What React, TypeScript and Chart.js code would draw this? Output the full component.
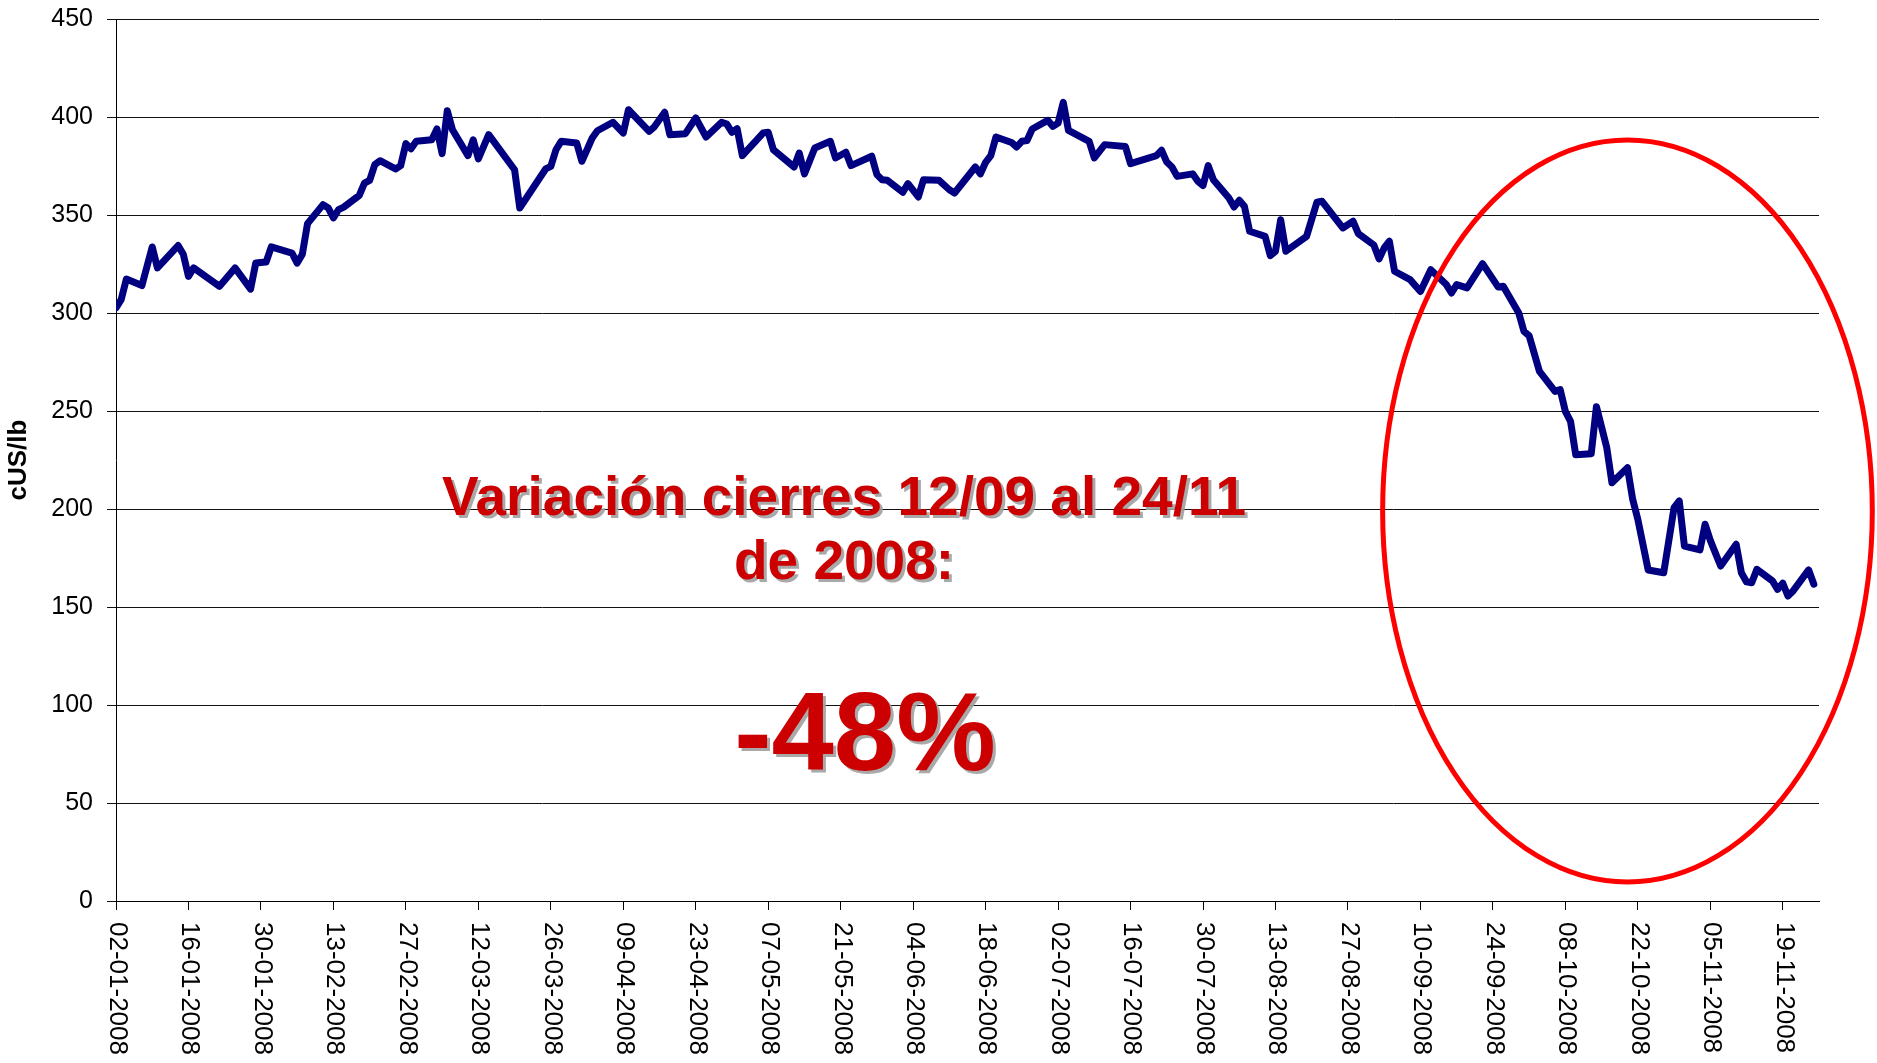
import React, { useEffect, useRef } from "react";
import { Chart, registerables } from "chart.js";

Chart.register(...registerables);

// ---- Data (closing prices, cUS/lb) ----
const dates: string[] = [
  "02-01-2008", "03-01-2008", "04-01-2008", "07-01-2008", "09-01-2008", "10-01-2008", "14-01-2008", "15-01-2008",
  "16-01-2008", "17-01-2008", "22-01-2008", "25-01-2008", "28-01-2008", "29-01-2008", "31-01-2008", "01-02-2008",
  "05-02-2008", "06-02-2008", "07-02-2008", "08-02-2008", "11-02-2008", "12-02-2008", "13-02-2008", "14-02-2008",
  "15-02-2008", "18-02-2008", "19-02-2008", "20-02-2008", "21-02-2008", "22-02-2008", "25-02-2008", "26-02-2008",
  "27-02-2008", "28-02-2008", "29-02-2008", "03-03-2008", "04-03-2008", "05-03-2008", "06-03-2008", "07-03-2008",
  "10-03-2008", "11-03-2008", "12-03-2008", "14-03-2008", "19-03-2008", "20-03-2008", "25-03-2008", "26-03-2008",
  "27-03-2008", "28-03-2008", "31-03-2008", "01-04-2008", "03-04-2008", "04-04-2008", "07-04-2008", "09-04-2008",
  "10-04-2008", "14-04-2008", "15-04-2008", "17-04-2008", "18-04-2008", "21-04-2008", "23-04-2008", "25-04-2008",
  "28-04-2008", "29-04-2008", "30-04-2008", "01-05-2008", "02-05-2008", "06-05-2008", "07-05-2008", "08-05-2008",
  "12-05-2008", "13-05-2008", "14-05-2008", "16-05-2008", "19-05-2008", "20-05-2008", "22-05-2008", "23-05-2008",
  "27-05-2008", "28-05-2008", "29-05-2008", "30-05-2008", "02-06-2008", "03-06-2008", "05-06-2008", "06-06-2008",
  "09-06-2008", "11-06-2008", "12-06-2008", "16-06-2008", "17-06-2008", "18-06-2008", "19-06-2008", "20-06-2008",
  "23-06-2008", "24-06-2008", "25-06-2008", "26-06-2008", "27-06-2008", "30-06-2008", "01-07-2008", "02-07-2008",
  "03-07-2008", "04-07-2008", "08-07-2008", "09-07-2008", "11-07-2008", "15-07-2008", "16-07-2008", "21-07-2008",
  "22-07-2008", "23-07-2008", "24-07-2008", "25-07-2008", "28-07-2008", "29-07-2008", "30-07-2008", "31-07-2008",
  "01-08-2008", "04-08-2008", "05-08-2008", "06-08-2008", "07-08-2008", "08-08-2008", "11-08-2008", "12-08-2008",
  "13-08-2008", "14-08-2008", "15-08-2008", "19-08-2008", "21-08-2008", "22-08-2008", "26-08-2008", "28-08-2008",
  "29-08-2008", "01-09-2008", "02-09-2008", "03-09-2008", "04-09-2008", "05-09-2008", "08-09-2008", "10-09-2008",
  "12-09-2008", "15-09-2008", "16-09-2008", "17-09-2008", "19-09-2008", "22-09-2008", "25-09-2008", "26-09-2008",
  "29-09-2008", "30-09-2008", "01-10-2008", "03-10-2008", "06-10-2008", "07-10-2008", "08-10-2008", "09-10-2008",
  "10-10-2008", "13-10-2008", "14-10-2008", "16-10-2008", "17-10-2008", "20-10-2008", "21-10-2008", "22-10-2008",
  "24-10-2008", "27-10-2008", "29-10-2008", "30-10-2008", "31-10-2008", "03-11-2008", "04-11-2008", "05-11-2008",
  "07-11-2008", "10-11-2008", "11-11-2008", "12-11-2008", "13-11-2008", "14-11-2008", "17-11-2008", "18-11-2008",
  "19-11-2008", "20-11-2008", "21-11-2008", "24-11-2008", "25-11-2008",
];

const cusLb: number[] = [
  302.6, 306.8, 317.3, 314, 333.7, 323, 334.4, 330,
  318.7, 323, 313.6, 323, 312.2, 325.5, 326, 333.7,
  330.6, 325.5, 330, 345.6, 355.3, 353.6, 348.5, 352.7,
  354, 360, 366.3, 367.7, 375.7, 377.7, 373.5, 375.2,
  386.4, 383.8, 387.6, 388.4, 393.9, 381.3, 403.2, 393.5,
  380.3, 388.4, 378.6, 391, 373.1, 353.6, 373.5, 374.8,
  383.3, 387.6, 386.7, 377.4, 389.3, 393, 397.3, 391.8,
  403.7, 392.7, 395, 402.4, 391, 391.5, 399.5, 389.8,
  397.3, 396.4, 392.2, 394, 380.3, 391.8, 392.2, 383.3,
  374.5, 381.6, 371, 384.2, 387.6, 379.1, 382, 375.2,
  380, 370.6, 368, 367.7, 361.6, 366, 359.2, 368,
  367.7, 362.9, 361.2, 374.5, 371, 376.9, 380.3, 389.8,
  387, 384.7, 387.6, 388, 393.9, 398.3, 395.2, 396.9,
  407.5, 393.2, 387.6, 379.1, 385.9, 385, 376.2, 380.3,
  383, 377, 374.5, 369.7, 371, 367.2, 365, 375.2,
  368, 358.7, 354.1, 357.5, 354.4, 341.7, 339.1, 329.3,
  331.5, 347.6, 331.5, 339.1, 356.5, 357, 343.4, 346.8,
  340.5, 334.7, 327.6, 333.2, 336.6, 321.3, 317, 311,
  322.1, 314.5, 310.2, 314.5, 312.8, 325.2, 313.3, 313.6,
  300, 290.6, 288.4, 270.2, 260, 260.9, 249.8, 244.7,
  227.7, 228.2, 252.2, 231.3, 213.4, 221.1, 205, 194.7,
  168.9, 167.5, 200.7, 204.1, 181.1, 179.1, 192.2, 184,
  170.9, 182, 167.5, 162.8, 162.4, 169.2, 163.3, 159,
  162.1, 155.6, 158.2, 168.9, 161.6,
];

const xTickLabels: string[] = [
  "02-01-2008", "16-01-2008", "30-01-2008", "13-02-2008", "27-02-2008", "12-03-2008",
  "26-03-2008", "09-04-2008", "23-04-2008", "07-05-2008", "21-05-2008", "04-06-2008",
  "18-06-2008", "02-07-2008", "16-07-2008", "30-07-2008", "13-08-2008", "27-08-2008",
  "10-09-2008", "24-09-2008", "08-10-2008", "22-10-2008", "05-11-2008", "19-11-2008",
];
const axisStart = "02-01-2008";
const axisEnd = "26-11-2008";
const yMin = 0;
const yMax = 450;
const yStep = 50;
const yTitle = "cUS/lb";
const noteLines: string[] = ["Variación cierres 12/09 al 24/11", "de 2008:"];
const noteValue = "-48%";
// highlight ellipse in data units (centre day offset / value, radii)
const ellipseCenterDay = 292;
const ellipseCenterValue = 199;
const ellipseRadiusDays = 47.3;
const ellipseRadiusValue = 189.3;

const FONT = "'Liberation Sans', Arial, Helvetica, sans-serif";

function dayOffset(s: string): number {
  const [dd, mm, yy] = s.split("-").map(Number);
  const [d0, m0, y0] = axisStart.split("-").map(Number);
  return Math.round((Date.UTC(yy, mm - 1, dd) - Date.UTC(y0, m0 - 1, d0)) / 86400000);
}

export default function App() {
  const ref = useRef<HTMLCanvasElement | null>(null);

  useEffect(() => {
    const canvas = ref.current;
    if (!canvas) return;
    const points = dates.map((d, i) => ({ x: dayOffset(d), y: cusLb[i] }));
    const tickDays = xTickLabels.map(dayOffset);

    const overlay = {
      id: "overlay",
      afterDatasetsDraw(chart: any) {
        const ctx = chart.ctx as CanvasRenderingContext2D;
        const xs = chart.scales.x;
        const ys = chart.scales.y;
        const cx = xs.getPixelForValue(ellipseCenterDay);
        const cy = ys.getPixelForValue(ellipseCenterValue);
        const rx = Math.abs(xs.getPixelForValue(ellipseCenterDay + ellipseRadiusDays) - cx);
        const ry = Math.abs(ys.getPixelForValue(ellipseCenterValue + ellipseRadiusValue) - cy);
        ctx.save();
        ctx.beginPath();
        ctx.ellipse(cx, cy, rx, ry, 0, 0, Math.PI * 2);
        ctx.strokeStyle = "#FF0000";
        ctx.lineWidth = 5;
        ctx.stroke();
        ctx.restore();

        // annotation text
        ctx.save();
        ctx.textAlign = "center";
        ctx.textBaseline = "alphabetic";
        ctx.shadowColor = "rgba(160,160,160,0.9)";
        ctx.shadowOffsetX = 3;
        ctx.shadowOffsetY = 3;
        ctx.shadowBlur = 0;
        ctx.fillStyle = "#CC0000";
        ctx.font = `bold 55px ${FONT}`;
        ctx.fillText(noteLines[0], 844, 515);
        ctx.fillText(noteLines[1], 844, 579);
        ctx.font = `bold 112px ${FONT}`;
        ctx.fillText(noteValue, 865, 770);
        ctx.restore();
      },
      afterDraw(chart: any) {
        const ctx = chart.ctx as CanvasRenderingContext2D;
        const xs = chart.scales.x;
        const bottom = chart.chartArea.bottom;
        ctx.save();
        ctx.font = `26px ${FONT}`;
        ctx.fillStyle = "#000";
        ctx.textAlign = "left";
        ctx.textBaseline = "middle";
        xTickLabels.forEach((lab, i) => {
          const px = xs.getPixelForValue(tickDays[i]);
          ctx.save();
          ctx.translate(px + 1, bottom + 21);
          ctx.rotate(Math.PI / 2);
          ctx.fillText(lab, 0, 0);
          ctx.restore();
        });
        ctx.restore();
      },
    };

    const chart = new Chart(canvas, {
      type: "line",
      data: {
        datasets: [
          {
            data: points,
            borderColor: "#000080",
            backgroundColor: "#000080",
            borderWidth: 7,
            pointRadius: 0,
            pointHoverRadius: 0,
            tension: 0,
            fill: false,
            borderJoinStyle: "round",
            borderCapStyle: "round",
          },
        ],
      },
      options: {
        animation: false,
        responsive: false,
        devicePixelRatio: 1,
        events: [],
        layout: { padding: { top: 19, right: 58, bottom: 0, left: 0 } },
        plugins: { legend: { display: false }, tooltip: { enabled: false }, title: { display: false } },
        scales: {
          x: {
            type: "linear",
            min: 0,
            max: dayOffset(axisEnd),
            afterBuildTicks: (s: any) => {
              s.ticks = tickDays.map((v) => ({ value: v }));
            },
            afterFit: (s: any) => {
              s.height = 162;
              s.paddingLeft = 0;
              s.paddingRight = 0;
            },
            ticks: { display: false },
            grid: { drawOnChartArea: false, drawTicks: true, tickLength: 9, color: "#000", lineWidth: 1 },
            border: { display: true, color: "#000", width: 1 },
          },
          y: {
            type: "linear",
            min: yMin,
            max: yMax,
            afterFit: (s: any) => {
              s.width = 116;
              s.paddingTop = 0;
              s.paddingBottom = 0;
            },
            ticks: {
              stepSize: yStep,
              color: "#000",
              padding: 14,
              font: { family: FONT, size: 25 },
            },
            grid: { color: "#111", lineWidth: 1, drawTicks: true, tickLength: 9 },
            border: { display: true, color: "#000", width: 1 },
            title: {
              display: true,
              text: yTitle,
              color: "#000",
              font: { family: FONT, size: 26, weight: "bold" },
              padding: { top: 3, bottom: 0 },
            },
          },
        },
      } as any,
      plugins: [overlay],
    });

    return () => chart.destroy();
  }, []);

  return (
    <canvas
      ref={ref}
      width={1877}
      height={1063}
      style={{ position: "absolute", left: 0, top: 0, display: "block", width: 1877, height: 1063 }}
    />
  );
}
